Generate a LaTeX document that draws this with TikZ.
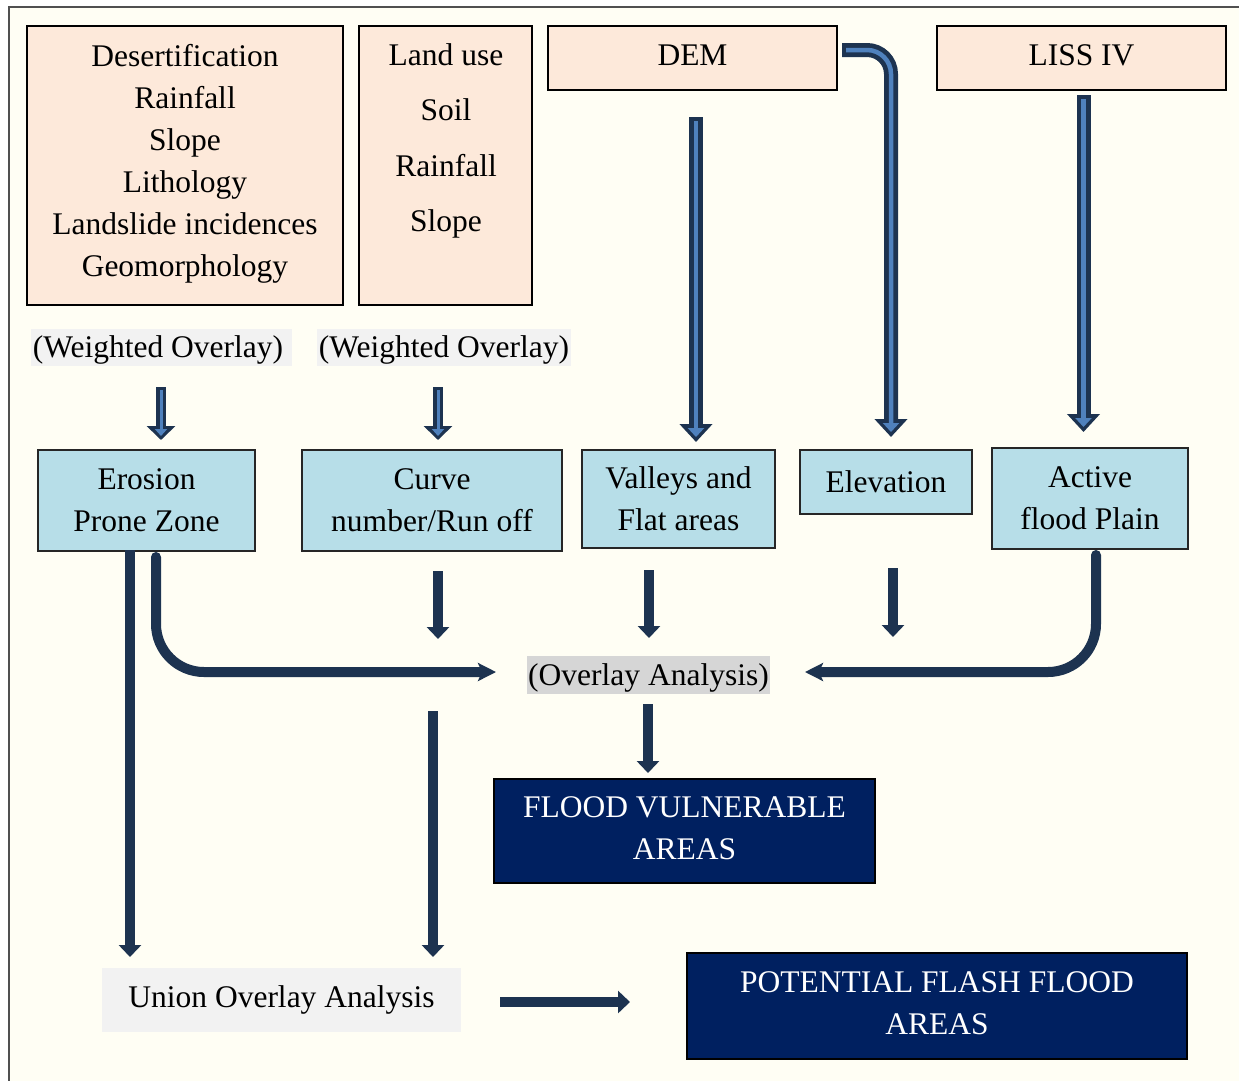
\documentclass[tikz,border=0pt]{standalone}
\usepackage{fontspec}
\setmainfont{Liberation Serif}
\usetikzlibrary{arrows.meta}
\definecolor{creamc}{HTML}{FFFEF4}
\definecolor{framec}{HTML}{505050}
\definecolor{peachc}{HTML}{FDE9DA}
\definecolor{bluec}{HTML}{B7DEE8}
\definecolor{darkc}{HTML}{1D3350}
\definecolor{lightc}{HTML}{4F81BD}
\definecolor{navyc}{HTML}{002060}
\definecolor{greyc}{HTML}{F2F2F2}
\definecolor{greyd}{HTML}{D6D6D6}
\begin{document}
\begin{tikzpicture}[x=1pt,y=-1pt,
  every node/.style={font=\fontsize{31.5}{42}\selectfont, inner sep=0pt, align=center},
  peachbox/.style={draw=black, line width=1.8pt, fill=peachc},
  bluebox/.style={draw=black!85, line width=1.5pt, fill=bluec},
  navybox/.style={draw=black, line width=1.8pt, fill=navyc, text=white},
  solidarrow/.style={draw=darkc, line width=10pt, -{Triangle[width=22pt,length=12pt]}},
  bendarrow/.style={draw=darkc, line width=10pt, line cap=round, rounded corners=48pt, -{Stealth[width=18pt,length=18pt,inset=4pt]}},
  outerbig/.style={draw=darkc, line width=14pt, -{Triangle[width=32pt,length=18pt]}},
  innerbig/.style={draw=lightc, line width=4.5pt, shorten <=4pt, shorten >=5pt, -{Triangle[width=16pt,length=9pt]}},
  outersmall/.style={draw=darkc, line width=10pt, -{Triangle[width=28pt,length=14pt]}},
  innersmall/.style={draw=lightc, line width=3pt, shorten <=3pt, shorten >=4pt, -{Triangle[width=12pt,length=7pt]}},
]
\useasboundingbox (0,0) rectangle (1239,1080);
\fill[white] (0,0) rectangle (1239,1080);
\draw[fill=creamc, draw=framec, line width=2pt] (9,7) rectangle (1250,1095);

% input boxes
\node[peachbox, minimum width=316pt, minimum height=279pt] (in1) at (185,165.5)
  {Desertification\\Rainfall\\Slope\\Lithology\\Landslide incidences\\Geomorphology\rule[-10pt]{0pt}{1pt}};
\node[peachbox, minimum width=173pt, minimum height=279pt] (in2) at (445.5,165.5) {};
\node[font=\fontsize{31.5}{55.3}\selectfont] (in2t) at (446,141) {Land use\\Soil\\Rainfall\\Slope};
\node[peachbox, minimum width=289pt, minimum height=64pt, text depth=6pt] (dem) at (692.5,58) {DEM};
\node[peachbox, minimum width=289pt, minimum height=64pt, text depth=6pt] (liss) at (1081.5,58) {LISS IV};

% weighted overlay labels
\node[fill=greyc, minimum width=261pt, minimum height=37pt, text depth=1pt] (wo1) at (161.5,347.5) {(Weighted Overlay)\rule{7pt}{0pt}};
\node[fill=greyc, minimum width=254pt, minimum height=37pt, text depth=1pt] (wo2) at (444,347.5) {(Weighted Overlay)};

% intermediate boxes
\node[bluebox, minimum width=217pt, minimum height=101pt] (ero) at (146.5,500.5) {Erosion\\Prone Zone};
\node[bluebox, minimum width=260pt, minimum height=101pt] (cur) at (432,500.5) {Curve\\number/Run off};
\node[bluebox, minimum width=193pt, minimum height=98pt] (val) at (678.5,499) {Valleys and\\Flat areas};
\node[bluebox, minimum width=172pt, minimum height=64pt] (ele) at (886,482) {Elevation};
\node[bluebox, minimum width=196pt, minimum height=101pt] (act) at (1090,498.5) {Active\\flood Plain};

% overlay analysis
\node[fill=greyd, minimum width=243pt, minimum height=38pt, text depth=0pt] (oa) at (648.5,675) {(Overlay Analysis)};

% outputs
\node[navybox, minimum width=381pt, minimum height=104pt] (fva) at (684.5,831) {FLOOD VULNERABLE\\AREAS\rule[-6pt]{0pt}{1pt}};
\node[fill=greyc, minimum width=359pt, minimum height=64pt] (uoa) at (281.5,1000) {Union Overlay Analysis};
\node[navybox, minimum width=500pt, minimum height=106pt] (pff) at (937,1006) {POTENTIAL FLASH FLOOD\\AREAS\rule[-6pt]{0pt}{1pt}};

% coordinates for free arrow ends
\coordinate (w1s) at (161,387); \coordinate (w1e) at (161,440);
\coordinate (w2s) at (438,387); \coordinate (w2e) at (438,440);
\coordinate (ds) at (696,117);  \coordinate (de) at (696,442);
\coordinate (hs) at (842,50);   \coordinate (hc) at (891,50); \coordinate (he) at (891,437);
\coordinate (ls) at (1083.5,95); \coordinate (le) at (1083.5,432);

\coordinate (el1s) at (130,550); \coordinate (el1e) at (130,957);
\coordinate (b1s) at (156,557); \coordinate (b1c) at (156,672); \coordinate (b1e) at (496,672);
\coordinate (cs) at (438,571); \coordinate (ce) at (438,639);
\coordinate (vs) at (649,570); \coordinate (ve) at (649,638);
\coordinate (es) at (893,568); \coordinate (ee) at (893,637);
\coordinate (b2s) at (1096,555); \coordinate (b2c) at (1096,672); \coordinate (b2e) at (805,672);
\coordinate (os) at (648,704); \coordinate (oe) at (648,773);
\coordinate (cus) at (433,711); \coordinate (cue) at (433,957);
\coordinate (us) at (500,1002); \coordinate (ue) at (630,1002);

% two-tone arrows
\draw[outersmall] (w1s) -- (w1e); \draw[innersmall] (w1s) -- (w1e);
\draw[outersmall] (w2s) -- (w2e); \draw[innersmall] (w2s) -- (w2e);
\draw[outerbig] (ds) -- (de); \draw[innerbig] (ds) -- (de);
\draw[outerbig, rounded corners=24pt] (hs) -- (hc) -- (he);
\draw[innerbig, rounded corners=24pt] (hs) -- (hc) -- (he);
\draw[outerbig] (ls) -- (le); \draw[innerbig] (ls) -- (le);

% solid arrows
\draw[solidarrow] (el1s) -- (el1e);
\draw[bendarrow] (b1s) -- (b1c) -- (b1e);
\draw[solidarrow] (cs) -- (ce);
\draw[solidarrow] (vs) -- (ve);
\draw[solidarrow] (es) -- (ee);
\draw[bendarrow] (b2s) -- (b2c) -- (b2e);
\draw[solidarrow] (os) -- (oe);
\draw[solidarrow] (cus) -- (cue);
\draw[solidarrow] (us) -- (ue);
\end{tikzpicture}
\end{document}
